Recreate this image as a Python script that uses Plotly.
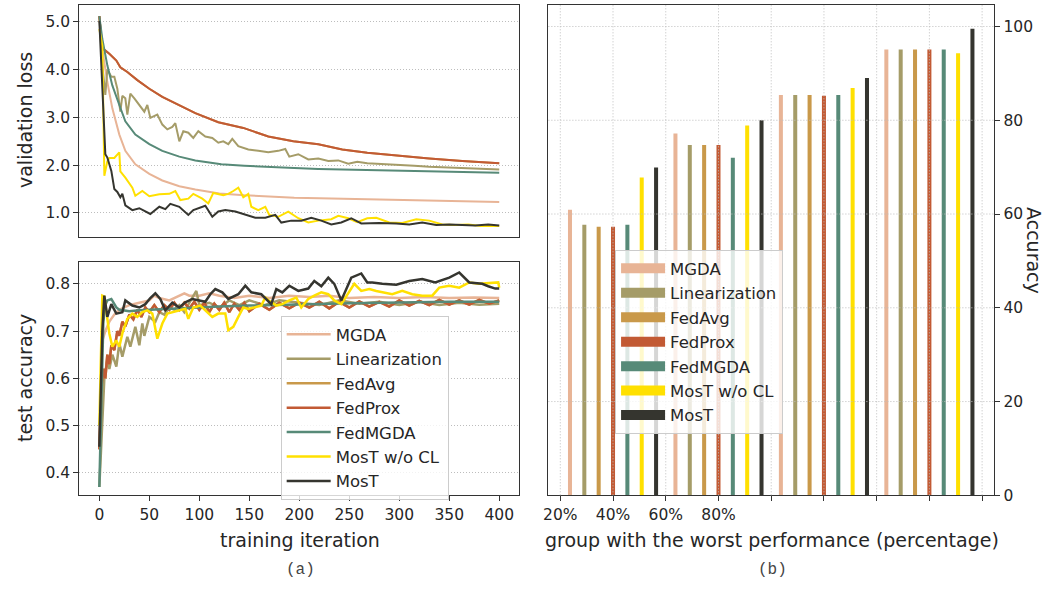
import plotly.graph_objects as go

# ---------------- data: validation loss (top-left) ----------------
loss_mgda_x = [0, 3, 8, 13, 20, 26, 36, 50, 63, 80, 96, 120, 145, 170, 195, 220, 245, 270, 300, 330, 360, 400]
loss_mgda_y = [5.12, 4.43, 3.74, 3.19, 2.64, 2.30, 2.02, 1.82, 1.68, 1.56, 1.49, 1.41, 1.37, 1.34, 1.32, 1.31, 1.30, 1.28, 1.27, 1.26, 1.25, 1.23]

loss_lin_x = [0, 3, 6, 8, 12, 15, 18, 21, 23, 26, 28, 31, 35, 40, 45, 48, 51, 58, 63, 68, 73, 76, 80, 84, 89, 94, 99, 106, 113, 119, 124, 129, 133, 139, 149, 159, 169, 179, 186, 190, 199, 209, 219, 229, 239, 249, 258, 268, 280, 297, 315, 330, 345, 363, 380, 400]
loss_lin_y = [5.12, 4.10, 3.47, 4.00, 3.85, 3.85, 3.60, 3.12, 3.45, 3.40, 3.06, 3.50, 3.40, 3.26, 3.12, 3.26, 2.99, 3.06, 2.85, 2.75, 2.80, 2.88, 2.50, 2.71, 2.68, 2.57, 2.71, 2.60, 2.57, 2.47, 2.50, 2.44, 2.55, 2.40, 2.33, 2.30, 2.27, 2.30, 2.34, 2.18, 2.23, 2.12, 2.14, 2.09, 2.10, 2.03, 2.07, 2.04, 2.03, 2.01, 1.99, 1.97, 1.96, 1.94, 1.93, 1.91]

loss_prox_x = [0, 3, 10, 17, 21, 28, 38, 50, 63, 80, 96, 119, 144, 169, 194, 219, 243, 268, 297, 330, 363, 400]
loss_prox_y = [5.12, 4.45, 4.33, 4.19, 4.05, 3.95, 3.78, 3.60, 3.43, 3.26, 3.09, 2.90, 2.78, 2.60, 2.50, 2.44, 2.33, 2.26, 2.20, 2.14, 2.09, 2.04]

loss_avg_x = loss_prox_x
loss_avg_y = loss_prox_y

loss_fmgda_x = [0, 3, 8, 13, 20, 26, 36, 50, 63, 80, 96, 122, 145, 169, 195, 219, 245, 268, 300, 330, 360, 400]
loss_fmgda_y = [5.12, 4.64, 4.09, 3.67, 3.26, 2.92, 2.64, 2.44, 2.30, 2.18, 2.10, 2.02, 1.99, 1.96, 1.94, 1.92, 1.91, 1.89, 1.88, 1.87, 1.86, 1.84]

loss_mwo_x = [0, 3, 5, 8, 10, 15, 20, 21, 26, 33, 36, 43, 50, 60, 70, 76, 81, 89, 94, 103, 109, 114, 124, 129, 134, 139, 144, 149, 152, 159, 166, 170, 179, 189, 199, 209, 219, 232, 239, 249, 258, 268, 277, 290, 303, 317, 330, 343, 356, 369, 382, 396, 400]
loss_mwo_y = [4.85, 4.50, 1.78, 2.08, 2.15, 2.15, 2.27, 1.87, 1.74, 1.53, 1.36, 1.46, 1.35, 1.39, 1.40, 1.46, 1.27, 1.30, 1.40, 1.30, 1.20, 1.42, 1.37, 1.40, 1.46, 1.53, 1.33, 1.40, 1.13, 1.06, 1.13, 0.96, 0.92, 1.03, 0.89, 0.80, 0.84, 0.87, 0.94, 0.89, 0.81, 0.89, 0.90, 0.80, 0.79, 0.87, 0.84, 0.76, 0.75, 0.76, 0.73, 0.72, 0.73]

loss_most_x = [0, 3, 6, 8, 12, 15, 18, 21, 23, 26, 33, 40, 46, 51, 60, 66, 71, 80, 89, 94, 106, 113, 119, 126, 136, 146, 156, 166, 176, 182, 192, 202, 212, 222, 232, 242, 252, 262, 280, 297, 310, 323, 337, 350, 363, 376, 389, 400]
loss_most_y = [5.02, 3.74, 2.23, 2.16, 1.88, 1.50, 1.44, 1.33, 1.40, 1.16, 1.06, 1.10, 1.03, 0.98, 1.13, 1.08, 1.19, 1.13, 0.96, 1.06, 1.15, 0.92, 1.03, 1.06, 1.03, 0.96, 0.90, 0.90, 0.96, 0.80, 0.84, 0.84, 0.90, 0.84, 0.76, 0.80, 0.89, 0.78, 0.79, 0.78, 0.76, 0.80, 0.75, 0.76, 0.75, 0.74, 0.76, 0.74]

# ---------------- data: test accuracy (bottom-left) ----------------
acc_mgda_x = [0, 3, 6, 10, 15, 20, 25, 30, 40, 50, 55, 60, 70, 80, 85, 90, 100, 110, 120, 135, 150, 170, 190, 210, 230, 250, 275, 300, 325, 350, 375, 400]
acc_mgda_y = [0.45, 0.68, 0.70, 0.72, 0.735, 0.745, 0.75, 0.755, 0.76, 0.765, 0.775, 0.77, 0.765, 0.775, 0.78, 0.775, 0.775, 0.78, 0.775, 0.77, 0.775, 0.77, 0.775, 0.772, 0.775, 0.77, 0.772, 0.77, 0.772, 0.77, 0.771, 0.77]

acc_lin_x = [0, 2, 5, 8, 10, 13, 17, 20, 23, 28, 31, 36, 40, 43, 45, 50, 56, 60, 65, 70, 75, 80, 85, 90, 97, 100, 110, 120, 130, 140, 150, 165, 180, 200, 220, 240, 260, 280, 300, 320, 340, 360, 380, 400]
acc_lin_y = [0.37, 0.45, 0.60, 0.64, 0.62, 0.65, 0.625, 0.674, 0.646, 0.688, 0.667, 0.709, 0.67, 0.716, 0.69, 0.73, 0.72, 0.74, 0.735, 0.75, 0.745, 0.755, 0.74, 0.76, 0.785, 0.755, 0.76, 0.75, 0.765, 0.755, 0.765, 0.755, 0.765, 0.76, 0.755, 0.765, 0.758, 0.762, 0.755, 0.762, 0.755, 0.76, 0.756, 0.758]

acc_prox_x = [0, 2, 4, 6, 8, 10, 12, 15, 18, 20, 23, 26, 30, 34, 38, 42, 46, 50, 55, 60, 65, 70, 75, 80, 85, 90, 95, 100, 105, 110, 115, 120, 125, 130, 135, 140, 145, 150, 160, 170, 180, 190, 200, 210, 220, 230, 240, 250, 260, 270, 280, 290, 300, 310, 320, 330, 340, 350, 360, 370, 380, 390, 400]
acc_prox_y = [0.45, 0.58, 0.62, 0.60, 0.65, 0.63, 0.67, 0.66, 0.70, 0.69, 0.72, 0.71, 0.735, 0.725, 0.745, 0.73, 0.75, 0.74, 0.755, 0.74, 0.755, 0.745, 0.76, 0.745, 0.76, 0.748, 0.762, 0.745, 0.76, 0.74, 0.758, 0.745, 0.76, 0.74, 0.758, 0.745, 0.76, 0.742, 0.758, 0.745, 0.76, 0.748, 0.76, 0.75, 0.762, 0.748, 0.762, 0.75, 0.763, 0.752, 0.762, 0.752, 0.765, 0.754, 0.764, 0.755, 0.766, 0.756, 0.765, 0.756, 0.766, 0.758, 0.765]

acc_avg_x = acc_prox_x
acc_avg_y = acc_prox_y

acc_fmgda_x = [0, 2, 4, 6, 8, 12, 17, 20, 30, 40, 50, 60, 80, 100, 120, 150, 180, 200, 230, 250, 280, 300, 330, 350, 380, 400]
acc_fmgda_y = [0.37, 0.55, 0.72, 0.755, 0.765, 0.768, 0.75, 0.745, 0.742, 0.744, 0.745, 0.746, 0.749, 0.75, 0.752, 0.754, 0.756, 0.757, 0.758, 0.759, 0.76, 0.761, 0.761, 0.762, 0.762, 0.762]

acc_mwo_x = [0, 2, 3, 5, 10, 13, 17, 20, 23, 28, 33, 38, 43, 48, 53, 58, 63, 68, 74, 80, 86, 89, 94, 101, 108, 113, 119, 126, 129, 134, 139, 144, 149, 156, 162, 166, 170, 177, 183, 190, 197, 202, 209, 215, 222, 229, 235, 242, 248, 255, 262, 270, 277, 283, 293, 303, 313, 323, 333, 340, 350, 360, 370, 380, 389, 399, 400]
acc_mwo_y = [0.50, 0.70, 0.775, 0.773, 0.695, 0.667, 0.68, 0.667, 0.695, 0.726, 0.737, 0.73, 0.74, 0.744, 0.737, 0.684, 0.716, 0.737, 0.74, 0.744, 0.747, 0.726, 0.75, 0.754, 0.74, 0.73, 0.737, 0.737, 0.702, 0.709, 0.73, 0.75, 0.747, 0.75, 0.754, 0.771, 0.764, 0.754, 0.757, 0.765, 0.771, 0.75, 0.768, 0.775, 0.782, 0.778, 0.765, 0.757, 0.778, 0.80, 0.785, 0.789, 0.785, 0.782, 0.778, 0.785, 0.778, 0.775, 0.775, 0.792, 0.796, 0.792, 0.803, 0.80, 0.801, 0.803, 0.792]

acc_most_x = [0, 3, 5, 8, 12, 17, 23, 26, 33, 40, 46, 51, 56, 61, 66, 73, 80, 86, 93, 99, 106, 111, 116, 123, 129, 139, 146, 152, 162, 172, 177, 183, 190, 199, 209, 215, 222, 229, 235, 242, 247, 252, 262, 268, 273, 283, 297, 310, 323, 336, 350, 360, 370, 383, 389, 396, 400]
acc_most_y = [0.455, 0.70, 0.775, 0.73, 0.757, 0.737, 0.74, 0.765, 0.754, 0.75, 0.757, 0.77, 0.78, 0.768, 0.744, 0.76, 0.75, 0.761, 0.768, 0.765, 0.762, 0.778, 0.789, 0.782, 0.768, 0.778, 0.796, 0.782, 0.778, 0.757, 0.789, 0.782, 0.796, 0.785, 0.79, 0.806, 0.795, 0.813, 0.80, 0.765, 0.789, 0.813, 0.822, 0.803, 0.803, 0.80, 0.798, 0.806, 0.81, 0.803, 0.813, 0.824, 0.803, 0.80, 0.795, 0.79, 0.79]

# ---------------- data: bar chart (right) ----------------
bar_tick_labels = ["20%", "40%", "60%", "80%", "", "", "", "", ""]
bar_mgda = [60.9, 77.2, 85.4, 95.1]
bar_lin = [57.7, 74.7, 85.4, 95.1]
bar_avg = [57.3, 74.7, 85.4, 95.1]
bar_prox = [57.3, 74.7, 85.2, 95.1]
bar_fmgda = [57.7, 72.0, 85.4, 95.1]
bar_mwo = [67.8, 78.9, 86.9, 94.3]
bar_most = [69.9, 80.0, 89.0, 99.5]

methods = ["MGDA", "Linearization", "FedAvg", "FedProx", "FedMGDA", "MosT w/o CL", "MosT"]
colors = ["#e8b496", "#a59c68", "#c9994a", "#c25a34", "#578a78", "#ffe000", "#35352f"]

loss_series = [(loss_mgda_x, loss_mgda_y), (loss_lin_x, loss_lin_y), (loss_avg_x, loss_avg_y),
               (loss_prox_x, loss_prox_y), (loss_fmgda_x, loss_fmgda_y), (loss_mwo_x, loss_mwo_y),
               (loss_most_x, loss_most_y)]
acc_series = [(acc_mgda_x, acc_mgda_y), (acc_lin_x, acc_lin_y), (acc_avg_x, acc_avg_y),
              (acc_prox_x, acc_prox_y), (acc_fmgda_x, acc_fmgda_y), (acc_mwo_x, acc_mwo_y),
              (acc_most_x, acc_most_y)]
bar_series = [bar_mgda, bar_lin, bar_avg, bar_prox, bar_fmgda, bar_mwo, bar_most]

W, H = 1045, 589
FONT = "DejaVu Sans"
TXT = "#262626"
SPINE = "#333333"
GRID = "#bdbdbd"
GDASH = "1px,2px"

fig = go.Figure()

for i, m in enumerate(methods):
    x, y = loss_series[i]
    fig.add_trace(go.Scatter(x=x, y=y, mode="lines", name=m, showlegend=False,
                             line=dict(color=colors[i], width=2), xaxis="x", yaxis="y"))
for i, m in enumerate(methods):
    x, y = acc_series[i]
    fig.add_trace(go.Scatter(x=x, y=y, mode="lines", name=m, showlegend=True, legend="legend",
                             line=dict(color=colors[i], width=2.5), xaxis="x2", yaxis="y2"))

group_pos = [2 * g + 1 for g in range(len(bar_mgda))]
for i, m in enumerate(methods):
    fig.add_trace(go.Bar(x=group_pos, y=bar_series[i], name=m, showlegend=False,
                         marker=dict(color=colors[i], line=dict(width=0)),
                         xaxis="x3", yaxis="y3"))
    fig.add_trace(go.Scatter(x=[None], y=[None], mode="lines", name=m, legend="legend2",
                             line=dict(color=colors[i], width=14), xaxis="x3", yaxis="y3"))


def px(v):
    return v / W


def py(v):
    return 1 - v / H


left_dom = [px(74.7), px(516.7)]
axis_common = dict(showline=True, linecolor=SPINE, linewidth=1.3, mirror=True, zeroline=False,
                   ticks="outside", ticklen=5, tickcolor=SPINE, tickwidth=1.2,
                   tickfont=dict(family=FONT, size=15.5, color=TXT))

fig.update_layout(
    width=W, height=H, autosize=False,
    margin=dict(l=0, r=0, t=0, b=0),
    paper_bgcolor="white", plot_bgcolor="white",
    barmode="group", bargap=0.0475, bargroupgap=0.72,
    xaxis=dict(domain=left_dom, range=[-20, 420], anchor="y", showticklabels=False, ticks="",
               showgrid=False, showline=True, linecolor=SPINE, linewidth=1.3, mirror=True, zeroline=False),
    yaxis=dict(domain=[py(240.7), py(4.7)], range=[0.497, 5.36], anchor="x",
               tickvals=[1, 2, 3, 4, 5], ticktext=["1.0", "2.0", "3.0", "4.0", "5.0"],
               showgrid=True, gridcolor=GRID, griddash=GDASH, gridwidth=1, **axis_common),
    xaxis2=dict(domain=left_dom, range=[-20, 420], anchor="y2", tickvals=[0, 50, 100, 150, 200, 250, 300, 350, 400],
                showgrid=False, **axis_common),
    yaxis2=dict(domain=[py(502.7), py(265.7)], range=[0.353, 0.847], anchor="x2",
                tickvals=[0.4, 0.5, 0.6, 0.7, 0.8], ticktext=["0.4", "0.5", "0.6", "0.7", "0.8"],
                showgrid=True, gridcolor=GRID, griddash=GDASH, gridwidth=1, **axis_common),
    xaxis3=dict(domain=[px(546), px(994)], range=[-0.226, 8.23], anchor="y3",
                tickvals=list(range(len(bar_tick_labels))), ticktext=bar_tick_labels,
                showgrid=False, **axis_common),
    yaxis3=dict(domain=[py(503), py(5)], range=[0, 104.6], anchor="x3", side="right",
                tickvals=[0, 20, 40, 60, 80, 100], showgrid=False, **axis_common),
    legend=dict(x=px(277), y=py(321), xanchor="left", yanchor="top", itemwidth=44,
                bgcolor="rgba(255,255,255,0.8)", bordercolor="#cccccc", borderwidth=1,
                font=dict(family=FONT, size=16.5, color=TXT)),
    legend2=dict(x=px(613), y=py(254), xanchor="left", yanchor="top", itemwidth=44,
                 bgcolor="rgba(255,255,255,0.8)", bordercolor="#cccccc", borderwidth=1,
                 font=dict(family=FONT, size=16.5, color=TXT)),
)

# grid of the bar panel drawn above the bars (as in the reference)
shapes = []
for tv in range(len(bar_tick_labels)):
    shapes.append(dict(type="line", xref="x3", yref="y3 domain", x0=tv, x1=tv, y0=0, y1=1,
                       line=dict(color=GRID, width=1, dash=GDASH), layer="above"))
for tv in [20, 40, 60, 80, 100]:
    shapes.append(dict(type="line", xref="x3 domain", yref="y3", x0=0, x1=1, y0=tv, y1=tv,
                       line=dict(color=GRID, width=1, dash=GDASH), layer="above"))
fig.update_layout(shapes=shapes)

ann = [
    dict(text="validation loss", x=px(20), y=py(122), textangle=-90, size=19),
    dict(text="test accuracy", x=px(20), y=py(384), textangle=-90, size=19),
    dict(text="training iteration", x=px(296), y=py(548), textangle=0, size=19),
    dict(text="group with the worst performance (percentage)", x=px(771), y=py(548), textangle=0, size=19),
    dict(text="Accuracy", x=px(1034), y=py(254), textangle=90, size=19),
]
annotations = []
for a in ann:
    annotations.append(dict(text=a["text"], x=a["x"], y=a["y"], xref="paper", yref="paper",
                            showarrow=False, textangle=a["textangle"], xanchor="center", yanchor="middle",
                            font=dict(family=FONT, size=a["size"], color=TXT)))
for t, xc in [("(a)", 297), ("(b)", 771)]:
    annotations.append(dict(text=t, x=px(xc), y=py(579), xref="paper", yref="paper", showarrow=False,
                            xanchor="center", yanchor="middle",
                            font=dict(family="Liberation Mono", size=16, color="#444444")))
fig.update_layout(annotations=annotations)

# remove the browser's default 8px body margin so the figure fills the window exactly
fig.write_html("out.html", post_script="document.body.style.margin='0';",
               config={"displayModeBar": False})
